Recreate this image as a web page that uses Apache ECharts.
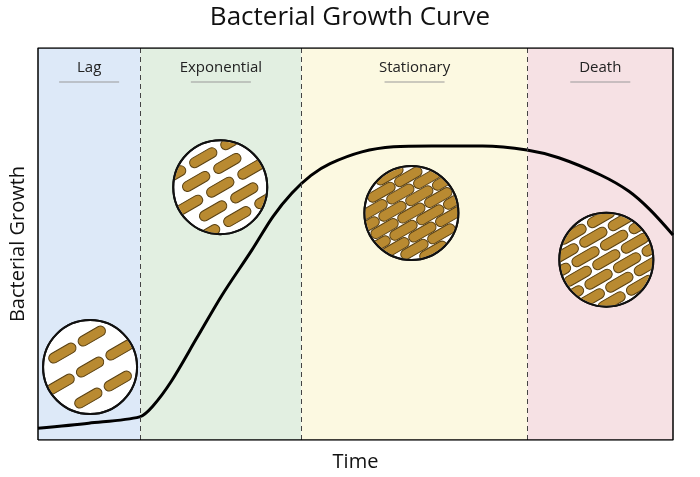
<!DOCTYPE html>
<html><head><meta charset="utf-8">
<script src="https://cdn.jsdelivr.net/npm/echarts@6/dist/echarts.min.js"></script>
<style>html,body{margin:0;background:#fff}#c{width:700px;height:477px}</style>
</head><body><div id="c"></div>
<script>
// phases: name, start, end (time units 0..100)
const phaseNames = ["Lag", "Exponential", "Stationary", "Death"];
const phaseEdges = [0, 16.1, 41.5, 77.1, 100];
const phaseColors = ["#dde9f8", "#e2efe1", "#fcf9e1", "#f6e1e4"];
// growth curve
const curveX = [0, 8, 16, 18, 21, 25, 29, 33.7, 37, 40, 43, 46, 51, 56, 62, 70, 77, 82, 88.6, 93, 96.4, 100];
const curveY = [3, 4.3, 5.9, 8.5, 15, 26, 37, 48.5, 57, 63, 67.5, 70.5, 73.5, 74.8, 75, 75, 74, 72, 67.6, 63.5, 58.7, 52.3];
// circles: x, y, column spacing, row spacing (bacteria density)
const circles = [
  [8.2, 18.6, 34, 26],
  [28.7, 64.5, 36, 17],
  [58.8, 57.9, 31, 11],
  [89.5, 46, 33, 13]
];

const chart = echarts.init(document.getElementById('c'));
const xy = curveX.map((x, i) => [x, curveY[i]]);

function renderCircle(params, api) {
  const c = api.coord([api.value(0), api.value(1)]);
  const dx = api.value(2), dy = api.value(3);
  const R = 47;
  const kids = [{type: 'circle', shape: {cx: c[0], cy: c[1], r: R}, style: {fill: '#fff', stroke: '#111', lineWidth: 2}}];
  const ang = -Math.PI / 6;
  const bugs = [];
  for (let j = -6; j <= 6; j++) {
    for (let i = -4; i <= 4; i++) {
      const lx = i * dx + (j % 2 ? dx / 2 : 0), ly = j * dy;
      const px = lx * Math.cos(ang) - ly * Math.sin(ang);
      const py = lx * Math.sin(ang) + ly * Math.cos(ang);
      if (Math.hypot(px, py) > R + 6) continue;
      bugs.push({type: 'rect', x: c[0] + px, y: c[1] + py, rotation: Math.PI / 6,
        shape: {x: -15, y: -5, width: 30, height: 10, r: 5},
        style: {fill: '#b98a31', stroke: '#5a4112', lineWidth: 1}});
    }
  }
  kids.push({type: 'group', children: bugs,
    clipPath: {type: 'circle', shape: {cx: c[0], cy: c[1], r: R - 1}}});
  kids.push({type: 'circle', shape: {cx: c[0], cy: c[1], r: R}, style: {fill: 'none', stroke: '#111', lineWidth: 2}});
  return {type: 'group', children: kids};
}

chart.setOption({
  animation: false,
  title: {text: 'Bacterial Growth Curve', left: 'center', top: 0,
    textStyle: {fontFamily: 'Open Sans', fontWeight: 'normal', fontSize: 26, color: '#111'}},
  grid: {left: 35, right: 27, top: 48, bottom: 37},
  xAxis: {type: 'value', min: 0, max: 100, name: 'Time', nameLocation: 'middle', nameGap: 12,
    nameTextStyle: {fontFamily: 'Open Sans', fontSize: 20, color: '#111'},
    axisLabel: {show: false}, axisTick: {show: false}, splitLine: {show: false}, axisLine: {show: false}},
  yAxis: {type: 'value', min: 0, max: 100, name: 'Bacterial Growth', nameLocation: 'middle', nameGap: 10,
    nameTextStyle: {fontFamily: 'Open Sans', fontSize: 20, color: '#111'},
    axisLabel: {show: false}, axisTick: {show: false}, splitLine: {show: false}, axisLine: {show: false}},
  series: [
    {type: 'line', data: xy, smooth: 0.3, symbol: 'none', z: 3,
      lineStyle: {color: '#000', width: 3},
      markArea: {silent: true,
        data: phaseNames.map((n, i) => [{xAxis: phaseEdges[i], yAxis: 0, name: n,
          itemStyle: {color: phaseColors[i]}}, {xAxis: phaseEdges[i + 1], yAxis: 100}]),
        label: {position: 'insideTop', distance: 10, formatter: p => '{t|' + p.name + '}\n{u|}',
          rich: {t: {fontFamily: 'Open Sans', fontSize: 15, color: '#222', lineHeight: 20},
            u: {width: 60, height: 1, backgroundColor: '#999', lineHeight: 8}}}},
      markLine: {silent: true, symbol: 'none', label: {show: false},
        lineStyle: {color: '#444', type: [5, 4], width: 1},
        data: phaseEdges.slice(1, 4).map(x => ({xAxis: x}))}
    },
    {type: 'line', data: [[0, 0], [100, 0], [100, 100], [0, 100], [0, 0]], symbol: 'none', z: 5,
      lineStyle: {color: '#000', width: 1.5}},
    {type: 'custom', data: circles, renderItem: renderCircle, z: 4}
  ]
});
</script></body></html>
